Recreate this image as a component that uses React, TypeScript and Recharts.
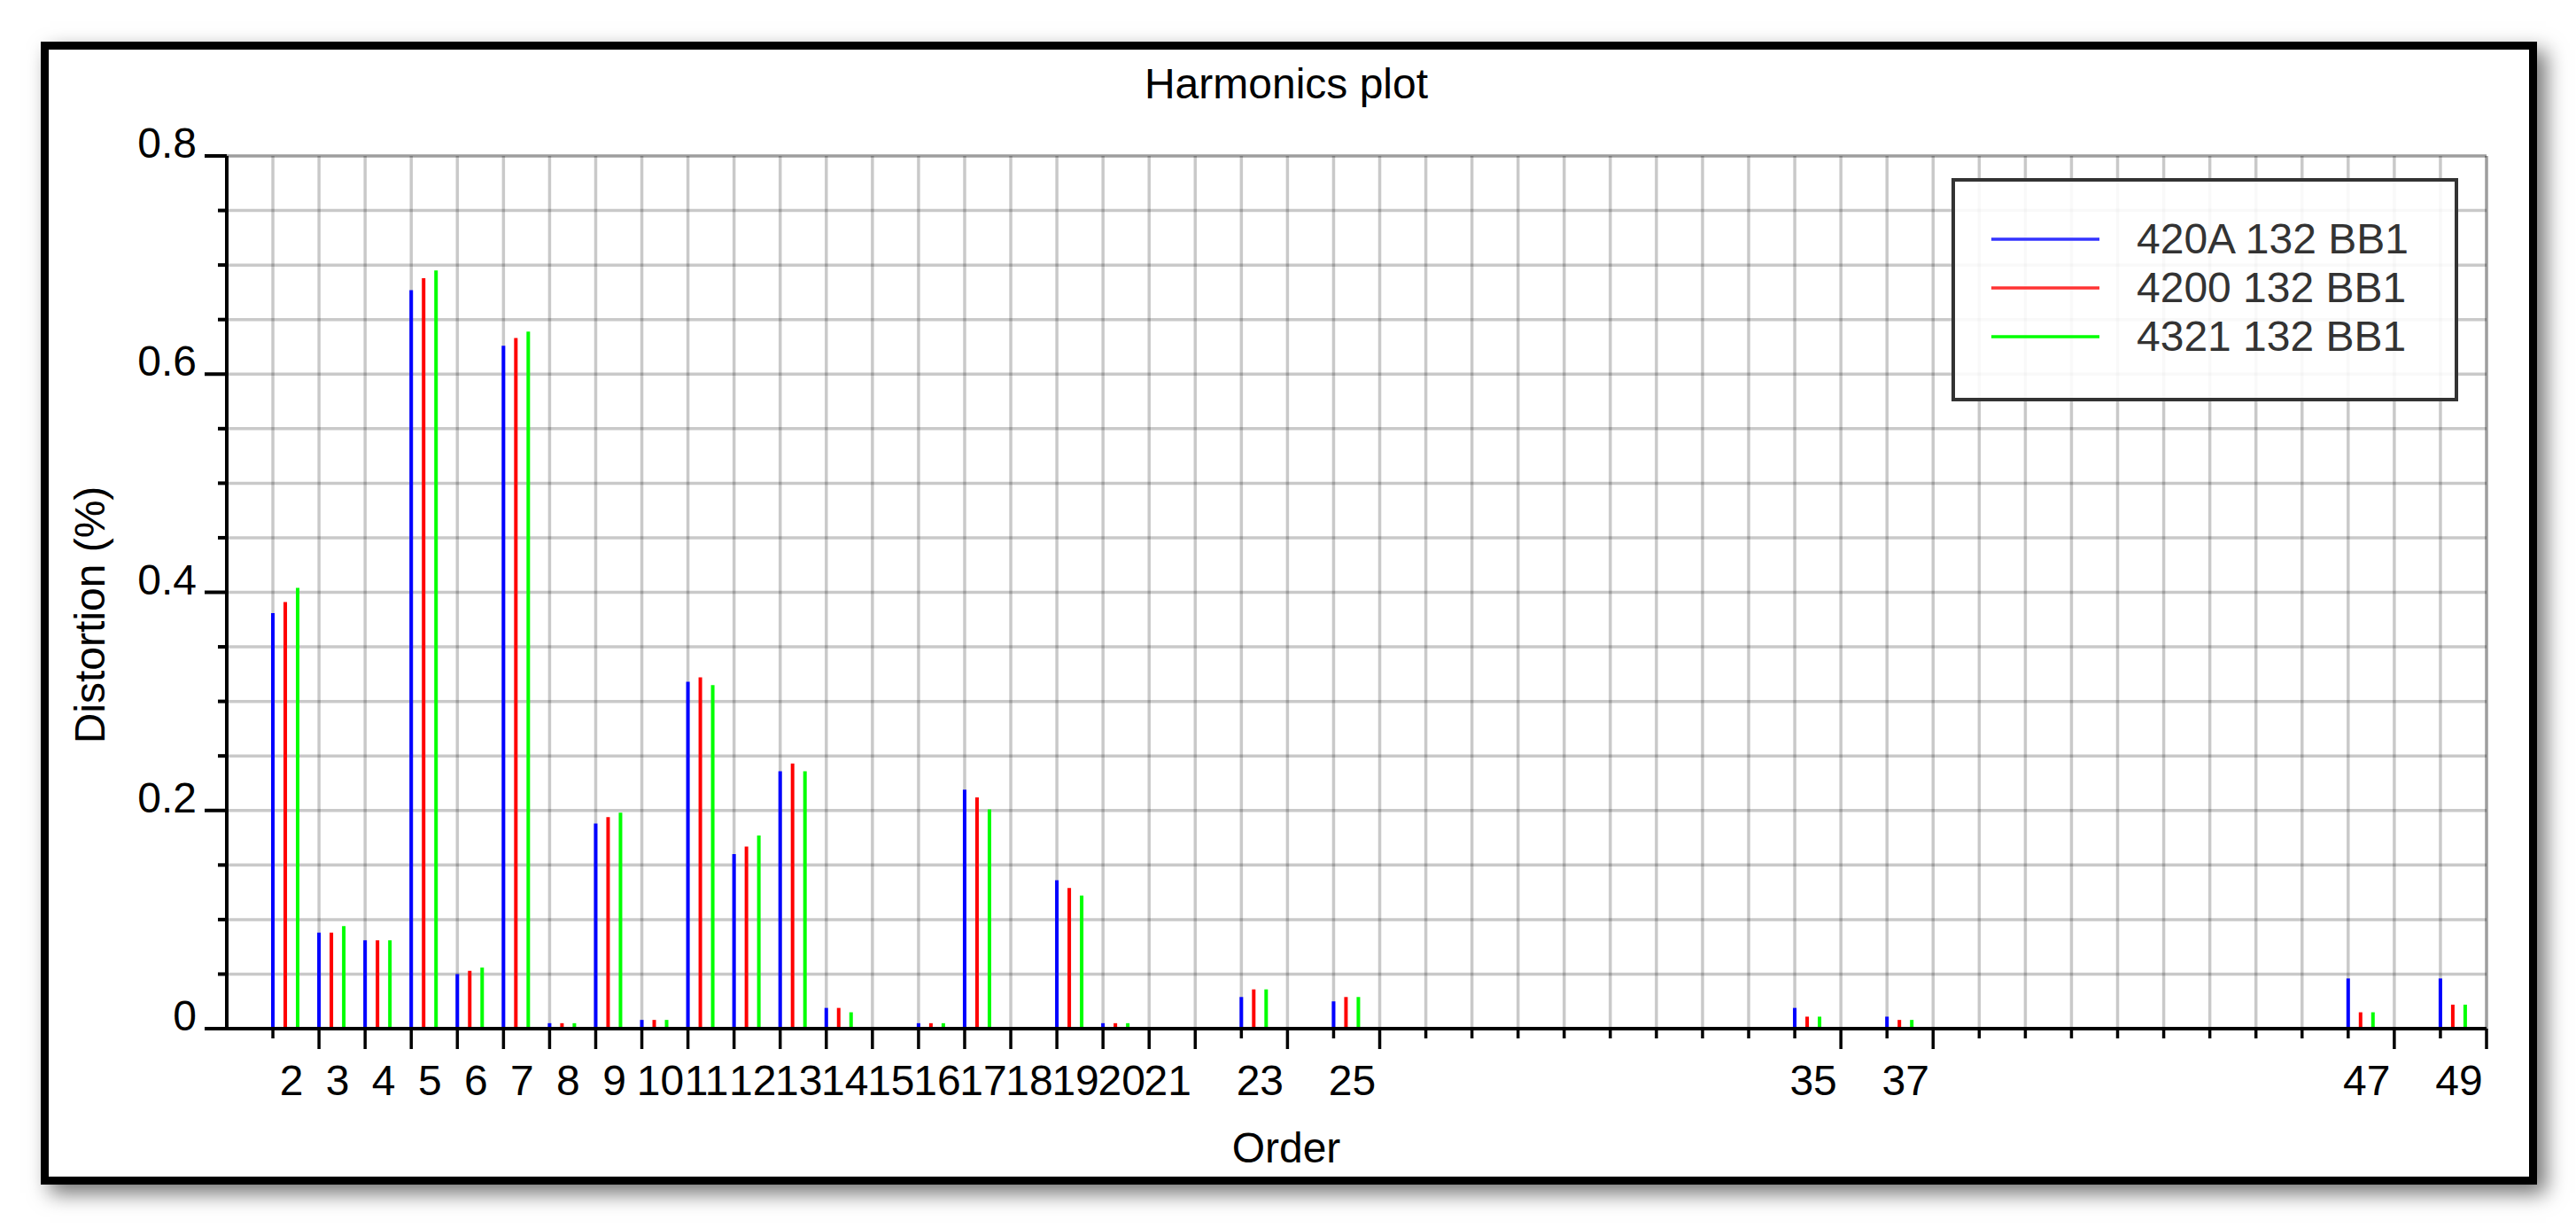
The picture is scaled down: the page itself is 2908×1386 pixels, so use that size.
import React from 'react';
import { ComposedChart, Bar, XAxis, YAxis, CartesianGrid, ReferenceLine, Legend } from 'recharts';

// ---- data ----
const ORDERS = [2, 3, 4, 5, 6, 7, 8, 9, 10, 11, 12, 13, 14, 16, 17, 19, 20, 23, 25, 35, 37, 47, 49];
const SERIES_A = [0.381, 0.088, 0.081, 0.677, 0.050, 0.626, 0.005, 0.188, 0.008, 0.318, 0.160, 0.236, 0.019, 0.005, 0.219, 0.136, 0.005, 0.029, 0.025, 0.019, 0.011, 0.046, 0.046];
const SERIES_B = [0.391, 0.088, 0.081, 0.688, 0.053, 0.633, 0.005, 0.194, 0.008, 0.322, 0.167, 0.243, 0.019, 0.005, 0.212, 0.129, 0.005, 0.036, 0.029, 0.011, 0.008, 0.015, 0.022];
const SERIES_C = [0.404, 0.094, 0.081, 0.695, 0.056, 0.639, 0.005, 0.198, 0.008, 0.315, 0.177, 0.236, 0.015, 0.005, 0.201, 0.122, 0.005, 0.036, 0.029, 0.011, 0.008, 0.015, 0.022];
const SERIES_NAMES = ['420A 132 BB1', '4200 132 BB1', '4321 132 BB1'];
const BAR_COLORS = ['#0000ff', '#ff0000', '#00ff00'];
const LEGEND_COLORS = ['#3333ff', '#ff3333', '#00ff00'];

const X_TICKS = [1, 2, 3, 4, 5, 6, 7, 8, 9, 10, 11, 12, 13, 14, 15, 16, 17, 18, 19, 20, 21, 22, 23, 24, 25,
  26, 27, 28, 29, 30, 31, 32, 33, 34, 35, 36, 37, 38, 39, 40, 41, 42, 43, 44, 45, 46, 47, 48, 49, 50];
const X_LABELS = [2, 3, 4, 5, 6, 7, 8, 9, 10, 11, 12, 13, 14, 15, 16, 17, 18, 19, 20, 21, 23, 25, 35, 37, 47, 49];
const Y_TICKS = [0, 0.05, 0.1, 0.15, 0.2, 0.25, 0.3, 0.35, 0.4, 0.45, 0.5, 0.55, 0.6, 0.65, 0.7, 0.75, 0.8];
const Y_LABELS = [0, 0.2, 0.4, 0.6, 0.8];

const TITLE = 'Harmonics plot';
const X_TITLE = 'Order';
const Y_TITLE = 'Distortion (%)';

const rows = ORDERS.map((order, i) => ({
  order,
  a: SERIES_A[i],
  b: SERIES_B[i],
  c: SERIES_C[i],
}));

const FONT = '"Liberation Sans", Arial, sans-serif';
const FS = 48;
const GRID = 'rgba(0,0,0,0.21)';
// bar group shift (in order units) so the first bar of each group sits on its order line
const SHIFT = 0.269;

const XTick = (props: any) => {
  const { x, y, payload } = props;
  const v = payload.value;
  if (v === 1) return <g />;
  const long = X_LABELS.includes(v - 1);
  const labeled = X_LABELS.includes(v);
  return (
    <g>
      <line x1={x} x2={x} y1={y} y2={y + (long ? 23 : 11)} stroke="#000" strokeWidth={3.5} />
      {labeled && (
        <text x={x + 21} y={y + 75} textAnchor="middle" fontFamily={FONT} fontSize={FS} fill="#000">
          {v}
        </text>
      )}
    </g>
  );
};

const YTick = (props: any) => {
  const { x, y, payload } = props;
  const v = payload.value;
  const major = Y_LABELS.some((l) => Math.abs(l - v) < 1e-9);
  return (
    <g>
      <line x1={x - (major ? 25 : 10)} x2={x} y1={y} y2={y} stroke="#000" strokeWidth={4} />
      {major && (
        <text x={x - 34} y={y + 2} textAnchor="end" fontFamily={FONT} fontSize={FS} fill="#000">
          {String(v)}
        </text>
      )}
    </g>
  );
};

const LegendBox = () => (
  <svg width={572} height={252} style={{ display: 'block' }}>
    <rect x={2} y={2} width={568} height={248} fill="rgba(255,255,255,0.88)" stroke="#333" strokeWidth={4} />
    {SERIES_NAMES.map((name, i) => (
      <g key={name}>
        <line x1={45} x2={167} y1={69 + i * 55} y2={69 + i * 55} stroke={LEGEND_COLORS[i]} strokeWidth={3.5} />
        <text x={209} y={69 + i * 55 + 16} fontFamily={FONT} fontSize={FS} fill="#333">
          {name}
        </text>
      </g>
    ))}
  </svg>
);

export default function App() {
  return (
    <div
      style={{
        position: 'absolute',
        left: 46,
        top: 47,
        width: 2818,
        height: 1290,
        border: '9px solid #000',
        boxSizing: 'border-box',
        background: '#fff',
        boxShadow: '10px 10px 22px rgba(0,0,0,0.55)',
        fontFamily: FONT,
      }}
    >
      <ComposedChart
        width={2800}
        height={1272}
        data={rows}
        margin={{ top: 120, right: 48, bottom: 0, left: 0 }}
        barSize={4}
        barGap={10}
      >
        <CartesianGrid xAxisId="main" stroke={GRID} strokeWidth={3.5} />
        <XAxis
          xAxisId="main"
          dataKey="order"
          type="number"
          domain={[1, 50]}
          allowDataOverflow
          ticks={X_TICKS}
          interval={0}
          height={167}
          tickSize={0}
          tickMargin={0}
          tickLine={false}
          tick={XTick}
          axisLine={{ stroke: '#000', strokeWidth: 4 }}
        />
        <XAxis
          xAxisId="bars"
          dataKey="order"
          type="number"
          domain={[1 - SHIFT, 50 - SHIFT]}
          allowDataOverflow
          height={0}
          hide
        />
        <YAxis
          type="number"
          domain={[0, 0.8]}
          allowDataOverflow
          ticks={Y_TICKS}
          interval={0}
          width={201}
          tickSize={0}
          tickMargin={0}
          tickLine={false}
          tick={YTick}
          axisLine={{ stroke: '#000', strokeWidth: 4 }}
        />
        <ReferenceLine xAxisId="main" y={0.8} stroke={GRID} strokeWidth={3.5} />
        <ReferenceLine xAxisId="main" x={50} stroke={GRID} strokeWidth={3.5} />
        <Bar xAxisId="bars" dataKey="a" name={SERIES_NAMES[0]} fill={BAR_COLORS[0]} isAnimationActive={false} />
        <Bar xAxisId="bars" dataKey="b" name={SERIES_NAMES[1]} fill={BAR_COLORS[1]} isAnimationActive={false} />
        <Bar xAxisId="bars" dataKey="c" name={SERIES_NAMES[2]} fill={BAR_COLORS[2]} isAnimationActive={false} />
        <Legend
          layout="horizontal"
          align="center"
          verticalAlign="middle"
          content={() => <LegendBox />}
          wrapperStyle={{ position: 'absolute', left: 2148, top: 145, width: 572, height: 252 }}
        />
        <text x={1397} y={55} textAnchor="middle" fontFamily={FONT} fontSize={FS} fill="#000">
          {TITLE}
        </text>
        <text x={1397} y={1256} textAnchor="middle" fontFamily={FONT} fontSize={FS} fill="#000">
          {X_TITLE}
        </text>
        <text
          x={63}
          y={638}
          transform="rotate(-90, 63, 638)"
          textAnchor="middle"
          fontFamily={FONT}
          fontSize={FS}
          fill="#000"
        >
          {Y_TITLE}
        </text>
      </ComposedChart>
    </div>
  );
}
